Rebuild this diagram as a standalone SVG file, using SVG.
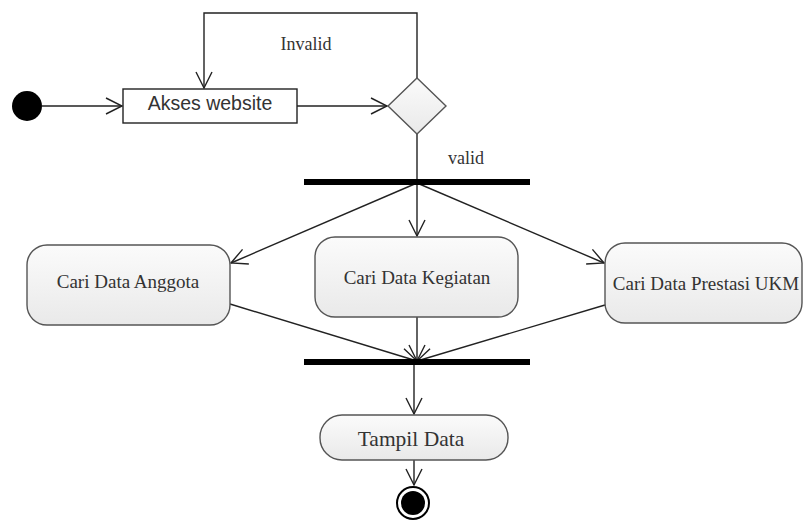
<svg xmlns="http://www.w3.org/2000/svg" width="803" height="520" viewBox="0 0 803 520">
<defs>
<linearGradient id="g" x1="0" y1="0" x2="0" y2="1">
<stop offset="0" stop-color="#fbfbfb"/>
<stop offset="1" stop-color="#e9e9e9"/>
</linearGradient>
<marker id="open" viewBox="0 0 20 20" refX="18" refY="10" markerWidth="20" markerHeight="20" markerUnits="userSpaceOnUse" orient="auto">
<path d="M2,2 L18,10 L2,18" fill="none" stroke="#222" stroke-width="1.4"/>
</marker>
</defs>
<style>
.ln{fill:none;stroke:#222;stroke-width:1.4}
.act{fill:url(#g);stroke:#555;stroke-width:1.4}
.st{font-family:"Liberation Serif",serif;fill:#333;text-anchor:middle}
.ss{font-family:"Liberation Sans",sans-serif;fill:#333;text-anchor:middle}
.bar{fill:#000}
</style>
<rect width="803" height="520" fill="#fff"/>
<g id="connectors">
<line class="ln" x1="42" y1="106" x2="122" y2="106" marker-end="url(#open)"/>
<line class="ln" x1="297" y1="106" x2="387" y2="106" marker-end="url(#open)"/>
<polyline class="ln" points="417,78 417,13 204,13 204,88" marker-end="url(#open)"/>
<line class="ln" x1="417" y1="134" x2="417" y2="180"/>
<line class="ln" x1="417" y1="183" x2="231" y2="263" marker-end="url(#open)"/>
<line class="ln" x1="417" y1="183" x2="417" y2="236" marker-end="url(#open)"/>
<line class="ln" x1="417" y1="183" x2="604" y2="263" marker-end="url(#open)"/>
<line class="ln" x1="230" y1="304" x2="417" y2="361" marker-end="url(#open)"/>
<line class="ln" x1="417" y1="317" x2="417" y2="361" marker-end="url(#open)"/>
<line class="ln" x1="605" y1="305" x2="417" y2="361" marker-end="url(#open)"/>
<line class="ln" x1="414" y1="364" x2="414" y2="414" marker-end="url(#open)"/>
<line class="ln" x1="414" y1="460" x2="414" y2="485" marker-end="url(#open)"/>
<text class="st" x="306" y="50" font-size="18">Invalid</text>
<text class="st" x="466" y="164" font-size="18">valid</text>
</g>
<g id="start"><circle cx="27" cy="106" r="15" fill="#000"/></g>
<g id="akses">
<rect x="123" y="89" width="174" height="34" fill="#fff" stroke="#222" stroke-width="1.4"/>
<text class="ss" x="210" y="110" font-size="19.5">Akses website</text>
</g>
<g id="decision"><polygon class="act" points="417,78 446,106 417,134 388,106"/></g>
<g id="fork"><rect class="bar" x="304" y="179" width="226" height="6"/></g>
<g id="anggota">
<rect class="act" x="27" y="245" width="203" height="80" rx="20"/>
<text class="st" x="128" y="288" font-size="19">Cari Data Anggota</text>
</g>
<g id="kegiatan">
<rect class="act" x="315" y="237" width="203" height="80" rx="20"/>
<text class="st" x="417" y="284" font-size="19">Cari Data Kegiatan</text>
</g>
<g id="prestasi">
<rect class="act" x="605" y="243" width="197" height="80" rx="20"/>
<text class="st" x="706" y="290" font-size="19">Cari Data Prestasi UKM</text>
</g>
<g id="join"><rect class="bar" x="304" y="359" width="226" height="6"/></g>
<g id="tampil">
<rect class="act" x="320" y="415" width="188" height="45" rx="22"/>
<text class="st" x="411" y="446" font-size="21.5">Tampil Data</text>
</g>
<g id="end">
<circle cx="413" cy="503" r="16" fill="#fff" stroke="#000" stroke-width="2"/>
<circle cx="413" cy="503" r="12" fill="#000"/>
</g>
</svg>
